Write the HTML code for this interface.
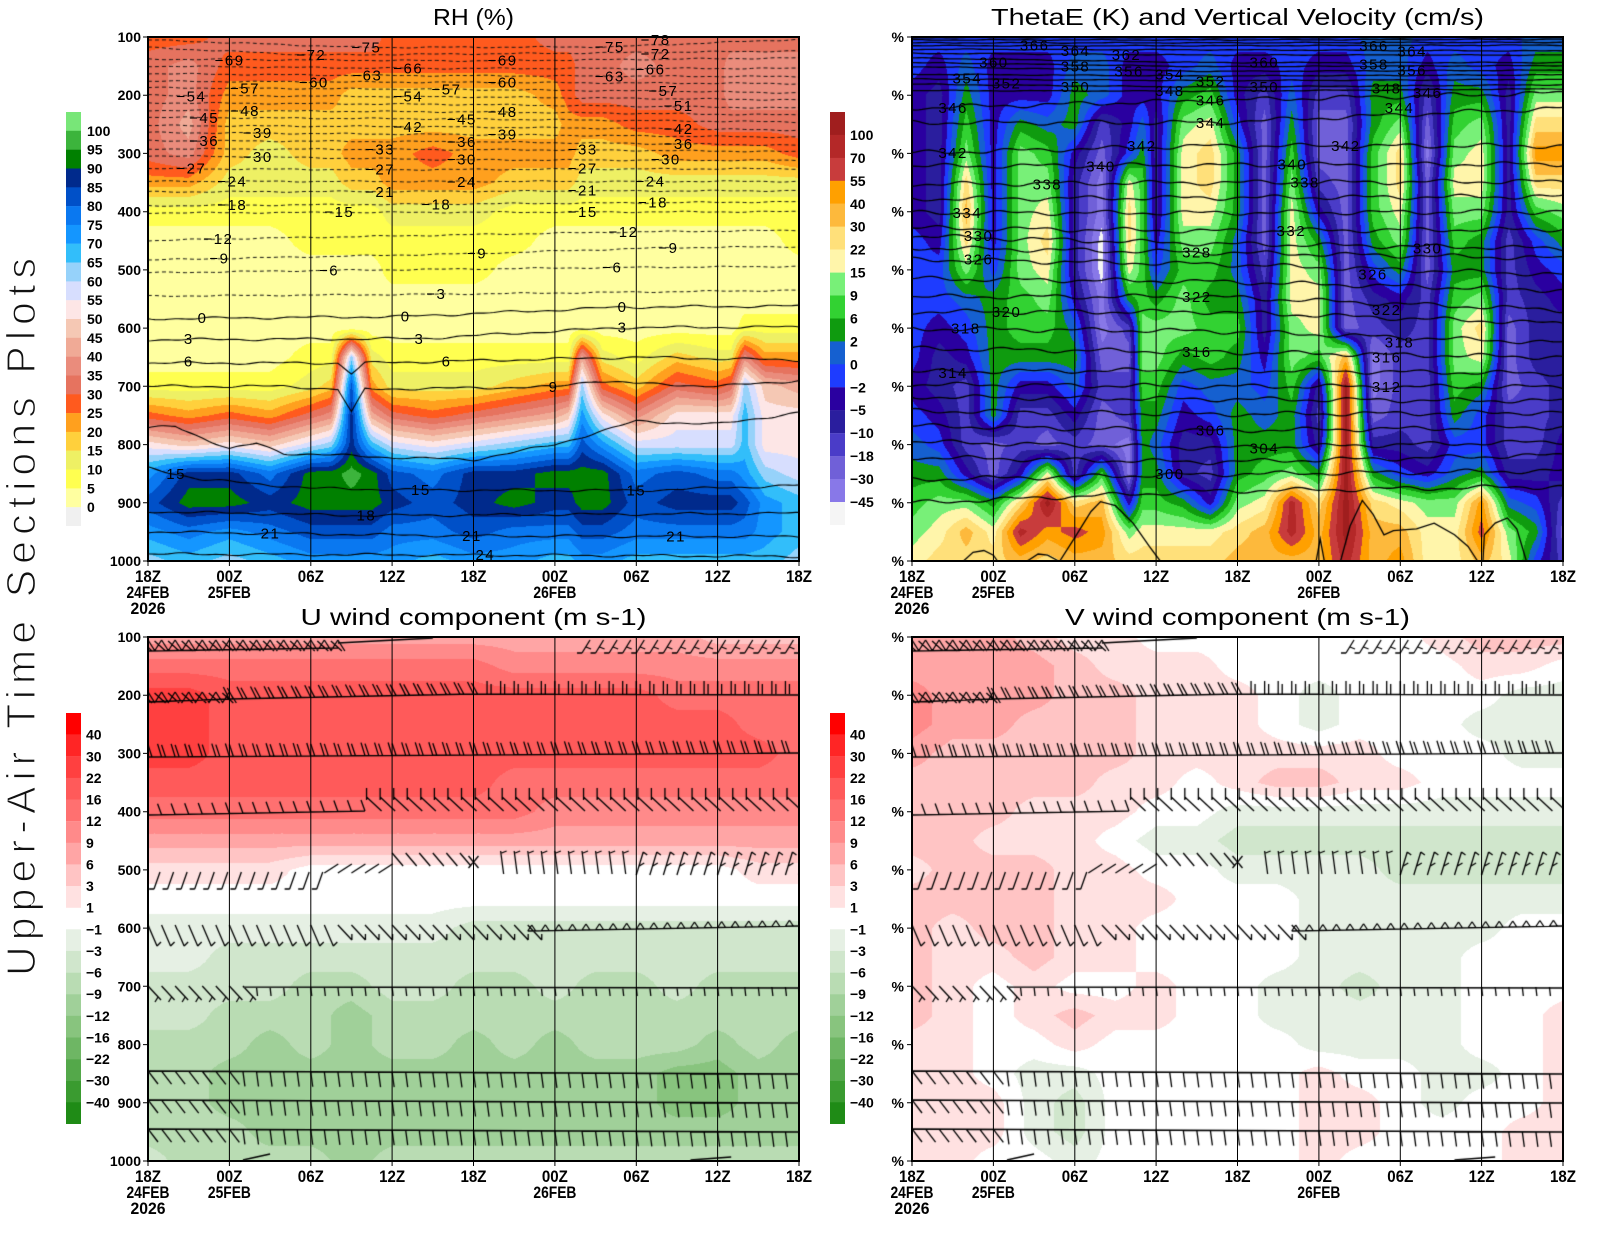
<!DOCTYPE html>
<html><head><meta charset="utf-8">
<style>
html,body{margin:0;padding:0;background:#fff;}
#wrap{position:relative;width:1600px;height:1236px;overflow:hidden;background:#fff;}
canvas,svg{position:absolute;left:0;top:0;}
text{font-family:"Liberation Sans",Arial,sans-serif;fill:#000;}
.ttl{font-size:23px;}
.ax{font-size:14px;font-weight:bold;}
.xl{font-size:17px;font-weight:bold;}
.cl{font-size:15px;letter-spacing:1.5px;}
.cb{font-size:14px;font-weight:bold;}
.big{font-size:41px;fill:#111;stroke:#fff;stroke-width:1.3px;}
</style></head><body><div id="wrap">
<canvas id="cv" width="1600" height="1236"></canvas>
<svg width="1600" height="1236" viewBox="0 0 1600 1236" xmlns="http://www.w3.org/2000/svg">
<text class="big" transform="translate(35,976) rotate(-90)" textLength="718" lengthAdjust="spacing">Upper-Air Time Sections Plots</text>

<text class="ttl" x="473.5" y="25" text-anchor="middle" textLength="81" lengthAdjust="spacingAndGlyphs">RH (%)</text>
<text class="ttl" x="1237.5" y="25" text-anchor="middle" textLength="493" lengthAdjust="spacingAndGlyphs">ThetaE (K) and Vertical Velocity (cm/s)</text>
<text class="ttl" x="473.5" y="625" text-anchor="middle" textLength="346" lengthAdjust="spacingAndGlyphs">U wind component (m s-1)</text>
<text class="ttl" x="1237.5" y="625" text-anchor="middle" textLength="345" lengthAdjust="spacingAndGlyphs">V wind component (m s-1)</text>

<g>
<rect x="66" y="112" width="15" height="19" fill="#78e678"/>
<rect x="66" y="130.8" width="15" height="19" fill="#3cb43c"/>
<rect x="66" y="149.6" width="15" height="19" fill="#008000"/>
<rect x="66" y="168.5" width="15" height="19" fill="#002a8c"/>
<rect x="66" y="187.3" width="15" height="19" fill="#0050c8"/>
<rect x="66" y="206.1" width="15" height="19" fill="#0a78f0"/>
<rect x="66" y="224.9" width="15" height="19" fill="#1496ff"/>
<rect x="66" y="243.7" width="15" height="19" fill="#32befa"/>
<rect x="66" y="262.5" width="15" height="19" fill="#96d2fa"/>
<rect x="66" y="281.4" width="15" height="19" fill="#d7defe"/>
<rect x="66" y="300.2" width="15" height="19" fill="#fde6e6"/>
<rect x="66" y="319" width="15" height="19" fill="#f5c8b4"/>
<rect x="66" y="337.8" width="15" height="19" fill="#f0aa96"/>
<rect x="66" y="356.6" width="15" height="19" fill="#ea8c7c"/>
<rect x="66" y="375.5" width="15" height="19" fill="#e6735f"/>
<rect x="66" y="394.3" width="15" height="19" fill="#ff5a1e"/>
<rect x="66" y="413.1" width="15" height="19" fill="#ffa01e"/>
<rect x="66" y="431.9" width="15" height="19" fill="#ffd03c"/>
<rect x="66" y="450.7" width="15" height="19" fill="#eef064"/>
<rect x="66" y="469.5" width="15" height="19" fill="#ffff50"/>
<rect x="66" y="488.4" width="15" height="19" fill="#ffffa0"/>
<rect x="66" y="507.2" width="15" height="18.8" fill="#f0f0f0"/>
</g>
<g>
<text class="cb" x="87" y="135.8">100</text>
<text class="cb" x="87" y="154.6">95</text>
<text class="cb" x="87" y="173.5">90</text>
<text class="cb" x="87" y="192.3">85</text>
<text class="cb" x="87" y="211.1">80</text>
<text class="cb" x="87" y="229.9">75</text>
<text class="cb" x="87" y="248.7">70</text>
<text class="cb" x="87" y="267.5">65</text>
<text class="cb" x="87" y="286.4">60</text>
<text class="cb" x="87" y="305.2">55</text>
<text class="cb" x="87" y="324">50</text>
<text class="cb" x="87" y="342.8">45</text>
<text class="cb" x="87" y="361.6">40</text>
<text class="cb" x="87" y="380.5">35</text>
<text class="cb" x="87" y="399.3">30</text>
<text class="cb" x="87" y="418.1">25</text>
<text class="cb" x="87" y="436.9">20</text>
<text class="cb" x="87" y="455.7">15</text>
<text class="cb" x="87" y="474.5">10</text>
<text class="cb" x="87" y="493.4">5</text>
<text class="cb" x="87" y="512.2">0</text>
</g>

<g>
<rect x="830" y="112" width="15" height="23.1" fill="#a01e1e"/>
<rect x="830" y="134.9" width="15" height="23.1" fill="#b42828"/>
<rect x="830" y="157.9" width="15" height="23.1" fill="#c83c3c"/>
<rect x="830" y="180.8" width="15" height="23.1" fill="#ffa000"/>
<rect x="830" y="203.8" width="15" height="23.1" fill="#fdb93c"/>
<rect x="830" y="226.7" width="15" height="23.1" fill="#ffe07a"/>
<rect x="830" y="249.6" width="15" height="23.1" fill="#fff5aa"/>
<rect x="830" y="272.6" width="15" height="23.1" fill="#78f078"/>
<rect x="830" y="295.5" width="15" height="23.1" fill="#32d232"/>
<rect x="830" y="318.5" width="15" height="23.1" fill="#0f9b0f"/>
<rect x="830" y="341.4" width="15" height="23.1" fill="#1560d0"/>
<rect x="830" y="364.3" width="15" height="23.1" fill="#1e3cff"/>
<rect x="830" y="387.3" width="15" height="23.1" fill="#2a00a0"/>
<rect x="830" y="410.2" width="15" height="23.1" fill="#2a1e9e"/>
<rect x="830" y="433.2" width="15" height="23.1" fill="#4a3cc8"/>
<rect x="830" y="456.1" width="15" height="23.1" fill="#7060d8"/>
<rect x="830" y="479" width="15" height="23.1" fill="#8878e8"/>
<rect x="830" y="502" width="15" height="23" fill="#f5f5f5"/>
</g>
<g>
<text class="cb" x="850" y="139.9">100</text>
<text class="cb" x="850" y="162.9">70</text>
<text class="cb" x="850" y="185.8">55</text>
<text class="cb" x="850" y="208.8">40</text>
<text class="cb" x="850" y="231.7">30</text>
<text class="cb" x="850" y="254.6">22</text>
<text class="cb" x="850" y="277.6">15</text>
<text class="cb" x="850" y="300.5">9</text>
<text class="cb" x="850" y="323.5">6</text>
<text class="cb" x="850" y="346.4">2</text>
<text class="cb" x="850" y="369.3">0</text>
<text class="cb" x="850" y="392.3">−2</text>
<text class="cb" x="850" y="415.2">−5</text>
<text class="cb" x="850" y="438.2">−10</text>
<text class="cb" x="850" y="461.1">−18</text>
<text class="cb" x="850" y="484">−30</text>
<text class="cb" x="850" y="507">−45</text>
</g>

<g>
<rect x="66" y="713" width="15" height="21.8" fill="#ff0000"/>
<rect x="66" y="734.6" width="15" height="21.8" fill="#ff2525"/>
<rect x="66" y="756.3" width="15" height="21.8" fill="#ff4040"/>
<rect x="66" y="777.9" width="15" height="21.8" fill="#ff5a5a"/>
<rect x="66" y="799.5" width="15" height="21.8" fill="#ff7070"/>
<rect x="66" y="821.2" width="15" height="21.8" fill="#ff8a8a"/>
<rect x="66" y="842.8" width="15" height="21.8" fill="#ffa5a5"/>
<rect x="66" y="864.4" width="15" height="21.8" fill="#ffc4c4"/>
<rect x="66" y="886" width="15" height="21.8" fill="#ffe1e1"/>
<rect x="66" y="929.3" width="15" height="21.8" fill="#e6f0e4"/>
<rect x="66" y="950.9" width="15" height="21.8" fill="#d0e6cc"/>
<rect x="66" y="972.6" width="15" height="21.8" fill="#b9dcb3"/>
<rect x="66" y="994.2" width="15" height="21.8" fill="#a0d099"/>
<rect x="66" y="1015.8" width="15" height="21.8" fill="#88c47e"/>
<rect x="66" y="1037.5" width="15" height="21.8" fill="#6eb664"/>
<rect x="66" y="1059.1" width="15" height="21.8" fill="#54a84a"/>
<rect x="66" y="1080.7" width="15" height="21.8" fill="#3a9b30"/>
<rect x="66" y="1102.3" width="15" height="21.7" fill="#1f8b16"/>
<rect x="830" y="713" width="15" height="21.8" fill="#ff0000"/>
<rect x="830" y="734.6" width="15" height="21.8" fill="#ff2525"/>
<rect x="830" y="756.3" width="15" height="21.8" fill="#ff4040"/>
<rect x="830" y="777.9" width="15" height="21.8" fill="#ff5a5a"/>
<rect x="830" y="799.5" width="15" height="21.8" fill="#ff7070"/>
<rect x="830" y="821.2" width="15" height="21.8" fill="#ff8a8a"/>
<rect x="830" y="842.8" width="15" height="21.8" fill="#ffa5a5"/>
<rect x="830" y="864.4" width="15" height="21.8" fill="#ffc4c4"/>
<rect x="830" y="886" width="15" height="21.8" fill="#ffe1e1"/>
<rect x="830" y="929.3" width="15" height="21.8" fill="#e6f0e4"/>
<rect x="830" y="950.9" width="15" height="21.8" fill="#d0e6cc"/>
<rect x="830" y="972.6" width="15" height="21.8" fill="#b9dcb3"/>
<rect x="830" y="994.2" width="15" height="21.8" fill="#a0d099"/>
<rect x="830" y="1015.8" width="15" height="21.8" fill="#88c47e"/>
<rect x="830" y="1037.5" width="15" height="21.8" fill="#6eb664"/>
<rect x="830" y="1059.1" width="15" height="21.8" fill="#54a84a"/>
<rect x="830" y="1080.7" width="15" height="21.8" fill="#3a9b30"/>
<rect x="830" y="1102.3" width="15" height="21.7" fill="#1f8b16"/>
</g>
<g>
<text class="cb" x="86" y="739.6">40</text><text class="cb" x="86" y="761.3">30</text><text class="cb" x="86" y="782.9">22</text>
<text class="cb" x="86" y="804.5">16</text><text class="cb" x="86" y="826.2">12</text><text class="cb" x="86" y="847.8">9</text>
<text class="cb" x="86" y="869.4">6</text><text class="cb" x="86" y="891">3</text><text class="cb" x="86" y="912.7">1</text>
<text class="cb" x="86" y="934.3">−1</text><text class="cb" x="86" y="955.9">−3</text><text class="cb" x="86" y="977.6">−6</text>
<text class="cb" x="86" y="999.2">−9</text><text class="cb" x="86" y="1020.8">−12</text><text class="cb" x="86" y="1042.5">−16</text>
<text class="cb" x="86" y="1064.1">−22</text><text class="cb" x="86" y="1085.7">−30</text><text class="cb" x="86" y="1107.3">−40</text>
<text class="cb" x="850" y="739.6">40</text><text class="cb" x="850" y="761.3">30</text><text class="cb" x="850" y="782.9">22</text>
<text class="cb" x="850" y="804.5">16</text><text class="cb" x="850" y="826.2">12</text><text class="cb" x="850" y="847.8">9</text>
<text class="cb" x="850" y="869.4">6</text><text class="cb" x="850" y="891">3</text><text class="cb" x="850" y="912.7">1</text>
<text class="cb" x="850" y="934.3">−1</text><text class="cb" x="850" y="955.9">−3</text><text class="cb" x="850" y="977.6">−6</text>
<text class="cb" x="850" y="999.2">−9</text><text class="cb" x="850" y="1020.8">−12</text><text class="cb" x="850" y="1042.5">−16</text>
<text class="cb" x="850" y="1064.1">−22</text><text class="cb" x="850" y="1085.7">−30</text><text class="cb" x="850" y="1107.3">−40</text>
</g>

<g stroke="#000" stroke-width="1" fill="none">
<path d="M229.4 37V561M310.8 37V561M392.1 37V561M473.5 37V561M554.9 37V561M636.3 37V561M717.6 37V561"/>
<path d="M993.4 37V561M1074.8 37V561M1156.1 37V561M1237.5 37V561M1318.9 37V561M1400.3 37V561M1481.6 37V561"/>
<path d="M229.4 637V1161M310.8 637V1161M392.1 637V1161M473.5 637V1161M554.9 637V1161M636.3 637V1161M717.6 637V1161"/>
<path d="M993.4 637V1161M1074.8 637V1161M1156.1 637V1161M1237.5 637V1161M1318.9 637V1161M1400.3 637V1161M1481.6 637V1161"/>
<path d="M143 37H148M143 95.2H148M143 153.4H148M143 211.7H148M143 269.9H148M143 328.1H148M143 386.3H148M143 444.6H148M143 502.8H148M143 561H148"/>
<path d="M907 37H912M907 95.2H912M907 153.4H912M907 211.7H912M907 269.9H912M907 328.1H912M907 386.3H912M907 444.6H912M907 502.8H912M907 561H912"/>
<path d="M143 637H148M143 695.2H148M143 753.4H148M143 811.7H148M143 869.9H148M143 928.1H148M143 986.3H148M143 1044.6H148M143 1102.8H148M143 1161H148"/>
<path d="M907 637H912M907 695.2H912M907 753.4H912M907 811.7H912M907 869.9H912M907 928.1H912M907 986.3H912M907 1044.6H912M907 1102.8H912M907 1161H912"/>
<path d="M148 561V566M229.4 561V566M310.8 561V566M392.1 561V566M473.5 561V566M554.9 561V566M636.3 561V566M717.6 561V566M799 561V566"/>
<path d="M912 561V566M993.4 561V566M1074.8 561V566M1156.1 561V566M1237.5 561V566M1318.9 561V566M1400.3 561V566M1481.6 561V566M1563 561V566"/>
<path d="M148 1161V1166M229.4 1161V1166M310.8 1161V1166M392.1 1161V1166M473.5 1161V1166M554.9 1161V1166M636.3 1161V1166M717.6 1161V1166M799 1161V1166"/>
<path d="M912 1161V1166M993.4 1161V1166M1074.8 1161V1166M1156.1 1161V1166M1237.5 1161V1166M1318.9 1161V1166M1400.3 1161V1166M1481.6 1161V1166M1563 1161V1166"/>
</g>
<g stroke="#000" stroke-width="2" fill="none">
<rect x="148" y="37" width="651" height="524"/>
<rect x="912" y="37" width="651" height="524"/>
<rect x="148" y="637" width="651" height="524"/>
<rect x="912" y="637" width="651" height="524"/>
</g>

<g text-anchor="end">
<text class="ax" x="141" y="42">100</text><text class="ax" x="141" y="100.2">200</text><text class="ax" x="141" y="158.4">300</text>
<text class="ax" x="141" y="216.7">400</text><text class="ax" x="141" y="274.9">500</text><text class="ax" x="141" y="333.1">600</text>
<text class="ax" x="141" y="391.3">700</text><text class="ax" x="141" y="449.6">800</text><text class="ax" x="141" y="507.8">900</text>
<text class="ax" x="141" y="566">1000</text>
<text class="ax" x="141" y="642">100</text><text class="ax" x="141" y="700.2">200</text><text class="ax" x="141" y="758.4">300</text>
<text class="ax" x="141" y="816.7">400</text><text class="ax" x="141" y="874.9">500</text><text class="ax" x="141" y="933.1">600</text>
<text class="ax" x="141" y="991.3">700</text><text class="ax" x="141" y="1049.6">800</text><text class="ax" x="141" y="1107.8">900</text>
<text class="ax" x="141" y="1166">1000</text>
<text class="ax" x="904" y="42">%</text><text class="ax" x="904" y="100.2">%</text><text class="ax" x="904" y="158.4">%</text>
<text class="ax" x="904" y="216.7">%</text><text class="ax" x="904" y="274.9">%</text><text class="ax" x="904" y="333.1">%</text>
<text class="ax" x="904" y="391.3">%</text><text class="ax" x="904" y="449.6">%</text><text class="ax" x="904" y="507.8">%</text>
<text class="ax" x="904" y="566">%</text>
<text class="ax" x="904" y="642">%</text><text class="ax" x="904" y="700.2">%</text><text class="ax" x="904" y="758.4">%</text>
<text class="ax" x="904" y="816.7">%</text><text class="ax" x="904" y="874.9">%</text><text class="ax" x="904" y="933.1">%</text>
<text class="ax" x="904" y="991.3">%</text><text class="ax" x="904" y="1049.6">%</text><text class="ax" x="904" y="1107.8">%</text>
<text class="ax" x="904" y="1166">%</text>
</g>

<g text-anchor="middle">
<text class="xl" x="148" y="582" textLength="26" lengthAdjust="spacingAndGlyphs">18Z</text>
<text class="xl" x="229.4" y="582" textLength="26" lengthAdjust="spacingAndGlyphs">00Z</text>
<text class="xl" x="310.8" y="582" textLength="26" lengthAdjust="spacingAndGlyphs">06Z</text>
<text class="xl" x="392.1" y="582" textLength="26" lengthAdjust="spacingAndGlyphs">12Z</text>
<text class="xl" x="473.5" y="582" textLength="26" lengthAdjust="spacingAndGlyphs">18Z</text>
<text class="xl" x="554.9" y="582" textLength="26" lengthAdjust="spacingAndGlyphs">00Z</text>
<text class="xl" x="636.3" y="582" textLength="26" lengthAdjust="spacingAndGlyphs">06Z</text>
<text class="xl" x="717.6" y="582" textLength="26" lengthAdjust="spacingAndGlyphs">12Z</text>
<text class="xl" x="799" y="582" textLength="26" lengthAdjust="spacingAndGlyphs">18Z</text>
<text class="xl" x="148" y="598" textLength="43" lengthAdjust="spacingAndGlyphs">24FEB</text>
<text class="xl" x="229.4" y="598" textLength="43" lengthAdjust="spacingAndGlyphs">25FEB</text>
<text class="xl" x="554.9" y="598" textLength="43" lengthAdjust="spacingAndGlyphs">26FEB</text>
<text class="xl" x="148" y="614" textLength="35" lengthAdjust="spacingAndGlyphs">2026</text>

<text class="xl" x="912" y="582" textLength="26" lengthAdjust="spacingAndGlyphs">18Z</text>
<text class="xl" x="993.4" y="582" textLength="26" lengthAdjust="spacingAndGlyphs">00Z</text>
<text class="xl" x="1074.8" y="582" textLength="26" lengthAdjust="spacingAndGlyphs">06Z</text>
<text class="xl" x="1156.1" y="582" textLength="26" lengthAdjust="spacingAndGlyphs">12Z</text>
<text class="xl" x="1237.5" y="582" textLength="26" lengthAdjust="spacingAndGlyphs">18Z</text>
<text class="xl" x="1318.9" y="582" textLength="26" lengthAdjust="spacingAndGlyphs">00Z</text>
<text class="xl" x="1400.3" y="582" textLength="26" lengthAdjust="spacingAndGlyphs">06Z</text>
<text class="xl" x="1481.6" y="582" textLength="26" lengthAdjust="spacingAndGlyphs">12Z</text>
<text class="xl" x="1563" y="582" textLength="26" lengthAdjust="spacingAndGlyphs">18Z</text>
<text class="xl" x="912" y="598" textLength="43" lengthAdjust="spacingAndGlyphs">24FEB</text>
<text class="xl" x="993.4" y="598" textLength="43" lengthAdjust="spacingAndGlyphs">25FEB</text>
<text class="xl" x="1318.9" y="598" textLength="43" lengthAdjust="spacingAndGlyphs">26FEB</text>
<text class="xl" x="912" y="614" textLength="35" lengthAdjust="spacingAndGlyphs">2026</text>

<text class="xl" x="148" y="1182" textLength="26" lengthAdjust="spacingAndGlyphs">18Z</text>
<text class="xl" x="229.4" y="1182" textLength="26" lengthAdjust="spacingAndGlyphs">00Z</text>
<text class="xl" x="310.8" y="1182" textLength="26" lengthAdjust="spacingAndGlyphs">06Z</text>
<text class="xl" x="392.1" y="1182" textLength="26" lengthAdjust="spacingAndGlyphs">12Z</text>
<text class="xl" x="473.5" y="1182" textLength="26" lengthAdjust="spacingAndGlyphs">18Z</text>
<text class="xl" x="554.9" y="1182" textLength="26" lengthAdjust="spacingAndGlyphs">00Z</text>
<text class="xl" x="636.3" y="1182" textLength="26" lengthAdjust="spacingAndGlyphs">06Z</text>
<text class="xl" x="717.6" y="1182" textLength="26" lengthAdjust="spacingAndGlyphs">12Z</text>
<text class="xl" x="799" y="1182" textLength="26" lengthAdjust="spacingAndGlyphs">18Z</text>
<text class="xl" x="148" y="1198" textLength="43" lengthAdjust="spacingAndGlyphs">24FEB</text>
<text class="xl" x="229.4" y="1198" textLength="43" lengthAdjust="spacingAndGlyphs">25FEB</text>
<text class="xl" x="554.9" y="1198" textLength="43" lengthAdjust="spacingAndGlyphs">26FEB</text>
<text class="xl" x="148" y="1214" textLength="35" lengthAdjust="spacingAndGlyphs">2026</text>

<text class="xl" x="912" y="1182" textLength="26" lengthAdjust="spacingAndGlyphs">18Z</text>
<text class="xl" x="993.4" y="1182" textLength="26" lengthAdjust="spacingAndGlyphs">00Z</text>
<text class="xl" x="1074.8" y="1182" textLength="26" lengthAdjust="spacingAndGlyphs">06Z</text>
<text class="xl" x="1156.1" y="1182" textLength="26" lengthAdjust="spacingAndGlyphs">12Z</text>
<text class="xl" x="1237.5" y="1182" textLength="26" lengthAdjust="spacingAndGlyphs">18Z</text>
<text class="xl" x="1318.9" y="1182" textLength="26" lengthAdjust="spacingAndGlyphs">00Z</text>
<text class="xl" x="1400.3" y="1182" textLength="26" lengthAdjust="spacingAndGlyphs">06Z</text>
<text class="xl" x="1481.6" y="1182" textLength="26" lengthAdjust="spacingAndGlyphs">12Z</text>
<text class="xl" x="1563" y="1182" textLength="26" lengthAdjust="spacingAndGlyphs">18Z</text>
<text class="xl" x="912" y="1198" textLength="43" lengthAdjust="spacingAndGlyphs">24FEB</text>
<text class="xl" x="993.4" y="1198" textLength="43" lengthAdjust="spacingAndGlyphs">25FEB</text>
<text class="xl" x="1318.9" y="1198" textLength="43" lengthAdjust="spacingAndGlyphs">26FEB</text>
<text class="xl" x="912" y="1214" textLength="35" lengthAdjust="spacingAndGlyphs">2026</text>
</g>

<g text-anchor="middle">
<text class="cl" x="229.6" y="65.7">−69</text><text class="cl" x="311.3" y="59.8">−72</text><text class="cl" x="366.4" y="52.7">−75</text>
<text class="cl" x="408.2" y="73.6">−66</text><text class="cl" x="502.6" y="65.7">−69</text><text class="cl" x="609.7" y="51.9">−75</text>
<text class="cl" x="655.6" y="45.2">−78</text><text class="cl" x="655.6" y="59">−72</text><text class="cl" x="650.5" y="74.4">−66</text>
<text class="cl" x="245" y="93.4">−57</text><text class="cl" x="313.8" y="87.5">−60</text><text class="cl" x="367.4" y="80.4">−63</text>
<text class="cl" x="191.4" y="101.3">−54</text><text class="cl" x="408.2" y="101.3">−54</text><text class="cl" x="446.5" y="94.6">−57</text>
<text class="cl" x="502.6" y="87.5">−60</text><text class="cl" x="609.7" y="81.5">−63</text><text class="cl" x="663.3" y="96.2">−57</text>
<text class="cl" x="678.6" y="111.2">−51</text><text class="cl" x="204.1" y="123.1">−45</text><text class="cl" x="245" y="116">−48</text>
<text class="cl" x="408.2" y="131.8">−42</text><text class="cl" x="461.8" y="124.3">−45</text><text class="cl" x="502.6" y="117.1">−48</text>
<text class="cl" x="678.6" y="134.2">−42</text><text class="cl" x="204.1" y="146">−36</text><text class="cl" x="257.7" y="138.1">−39</text>
<text class="cl" x="461.8" y="146.8">−36</text><text class="cl" x="502.6" y="139.7">−39</text><text class="cl" x="678.6" y="149.2">−36</text>
<text class="cl" x="380.1" y="154.7">−33</text><text class="cl" x="582.7" y="154.7">−33</text><text class="cl" x="257.7" y="161.8">−30</text>
<text class="cl" x="461.8" y="164.6">−30</text><text class="cl" x="665.8" y="164.6">−30</text><text class="cl" x="191.4" y="173.7">−27</text>
<text class="cl" x="380.1" y="174.5">−27</text><text class="cl" x="582.7" y="173.7">−27</text><text class="cl" x="232.2" y="186.4">−24</text>
<text class="cl" x="461.8" y="187.1">−24</text><text class="cl" x="650.5" y="186.4">−24</text><text class="cl" x="380.1" y="197">−21</text>
<text class="cl" x="582.7" y="195.5">−21</text><text class="cl" x="232.2" y="210.1">−18</text><text class="cl" x="436.3" y="209.3">−18</text>
<text class="cl" x="653" y="207.3">−18</text><text class="cl" x="339.3" y="216.8">−15</text><text class="cl" x="582.7" y="216.8">−15</text>
<text class="cl" x="218.4" y="244.1">−12</text><text class="cl" x="623.5" y="237">−12</text><text class="cl" x="219.4" y="263.5">−9</text>
<text class="cl" x="477.1" y="258.7">−9</text><text class="cl" x="668.4" y="252.8">−9</text><text class="cl" x="329.1" y="275.3">−6</text>
<text class="cl" x="612.3" y="272.6">−6</text><text class="cl" x="436.3" y="299.1">−3</text><text class="cl" x="202.6" y="322.8">0</text>
<text class="cl" x="405.7" y="321.6">0</text><text class="cl" x="622.5" y="312.1">0</text><text class="cl" x="188.8" y="343.8">3</text>
<text class="cl" x="419.4" y="343.8">3</text><text class="cl" x="622.5" y="332.7">3</text><text class="cl" x="188.8" y="366.3">6</text>
<text class="cl" x="446.5" y="366.3">6</text><text class="cl" x="553.6" y="392">9</text><text class="cl" x="176.1" y="479">15</text>
<text class="cl" x="420.9" y="494.8">15</text><text class="cl" x="636.3" y="495.6">15</text><text class="cl" x="366.4" y="520.6">18</text>
<text class="cl" x="270.5" y="538.3">21</text><text class="cl" x="472" y="541.1">21</text><text class="cl" x="676.1" y="541.5">21</text>
<text class="cl" x="485.3" y="560.1">24</text>
</g>

<g text-anchor="middle">
<text class="cl" x="1034.7" y="50.7">366</text><text class="cl" x="1075.5" y="55.8">364</text><text class="cl" x="1126.5" y="59.8">362</text>
<text class="cl" x="993.9" y="67.7">360</text><text class="cl" x="1075.5" y="71.7">358</text><text class="cl" x="1129.1" y="76.4">356</text>
<text class="cl" x="1169.9" y="79.6">354</text><text class="cl" x="967.3" y="83.5">354</text><text class="cl" x="1006.6" y="88.3">352</text>
<text class="cl" x="1075.5" y="92.2">350</text><text class="cl" x="1169.9" y="96.2">348</text><text class="cl" x="1210.7" y="86.3">352</text>
<text class="cl" x="1210.7" y="105.3">346</text><text class="cl" x="1264.3" y="67.7">360</text><text class="cl" x="1264.3" y="92.2">350</text>
<text class="cl" x="1374" y="51.1">366</text><text class="cl" x="1412.2" y="56.6">364</text><text class="cl" x="1374" y="69.7">358</text>
<text class="cl" x="1412.2" y="75.6">356</text><text class="cl" x="1386.7" y="93.4">348</text><text class="cl" x="1427.6" y="98.2">346</text>
<text class="cl" x="1399.5" y="113.2">344</text><text class="cl" x="953.1" y="113.2">346</text><text class="cl" x="1210.7" y="127.8">344</text>
<text class="cl" x="953.1" y="157.9">342</text><text class="cl" x="1141.8" y="150.8">342</text><text class="cl" x="1345.9" y="150.8">342</text>
<text class="cl" x="1101" y="171.3">340</text><text class="cl" x="1292.3" y="169.7">340</text><text class="cl" x="1047.4" y="189.5">338</text>
<text class="cl" x="1305.1" y="187.5">338</text><text class="cl" x="967.3" y="218">334</text><text class="cl" x="1291.3" y="235.8">332</text>
<text class="cl" x="978.6" y="240.9">330</text><text class="cl" x="1427.6" y="253.6">330</text><text class="cl" x="1196.9" y="257.5">328</text>
<text class="cl" x="978.6" y="264.3">326</text><text class="cl" x="1373" y="279.3">326</text><text class="cl" x="1196.9" y="301.8">322</text>
<text class="cl" x="1386.7" y="314.9">322</text><text class="cl" x="1006.6" y="316.9">320</text><text class="cl" x="965.8" y="333.5">318</text>
<text class="cl" x="1399.5" y="347.7">318</text><text class="cl" x="1196.9" y="357.2">316</text><text class="cl" x="1386.7" y="362.4">316</text>
<text class="cl" x="953.1" y="378.2">314</text><text class="cl" x="1386.7" y="392">312</text><text class="cl" x="1210.7" y="435.5">306</text>
<text class="cl" x="1264.3" y="453.3">304</text><text class="cl" x="1169.9" y="479">300</text>
</g>
</svg>
</div>
<script>
(function(){
var cv=document.getElementById('cv');var ctx=cv.getContext('2d');
var W=651,H=524;
function hx(h){return [parseInt(h.substr(1,2),16),parseInt(h.substr(3,2),16),parseInt(h.substr(5,2),16)];}
function transpose(rows){var nc=rows[0].length,out=[];for(var c=0;c<nc;c++){var s='';for(var r=0;r<rows.length;r++)s+=rows[r][c];out.push(s);}return out;}
function uni(n,step){var a=[];for(var i=0;i<n;i++)a.push(i*step);return a;}
function fill(X0,Y0,cols,tpos,pal){
  var g=cols.map(function(s){return s.split('').map(function(c){return parseInt(c,36);});});
  var P=pal.map(hx),nc=g.length,nr=g[0].length;
  var img=ctx.createImageData(W,H),d=img.data;
  var cidx=[],cfr=[];
  for(var i=0;i<W;i++){
    var t=(i+0.5)*48/W;var c0=0;
    while(c0<nc-2&&t>=tpos[c0+1])c0++;
    cidx.push(c0);cfr.push((t-tpos[c0])/(tpos[c0+1]-tpos[c0]));
  }
  for(var j=0;j<H;j++){
    var p=100+(j+0.5)*900/H;var r=(p-100)/50;var r0=Math.min(Math.floor(r),nr-2);var fr=r-r0;
    for(var i=0;i<W;i++){
      var c0=cidx[i],fc=cfr[i];
      var v=(1-fc)*((1-fr)*g[c0][r0]+fr*g[c0][r0+1])+fc*((1-fr)*g[c0+1][r0]+fr*g[c0+1][r0+1]);
      var k=Math.round(v);if(k<0)k=0;if(k>=P.length)k=P.length-1;
      var o=(j*W+i)*4,q=P[k];d[o]=q[0];d[o+1]=q[1];d[o+2]=q[2];d[o+3]=255;
    }
  }
  ctx.putImageData(img,X0,Y0);
}
var palRH=["#f0f0f0","#ffffa0","#ffff50","#eef064","#ffd03c","#ffa01e","#ff5a1e","#e6735f","#ea8c7c","#f0aa96","#f5c8b4","#fde6e6","#d7defe","#96d2fa","#32befa","#1496ff","#0a78f0","#0050c8","#002a8c","#008000","#3cb43c","#78e678"];
var palTE=["#f5f5f5","#8878e8","#7060d8","#4a3cc8","#2a1e9e","#2a00a0","#1e3cff","#1560d0","#0f9b0f","#32d232","#78f078","#fff5aa","#ffe07a","#fdb93c","#ffa000","#c83c3c","#b42828","#a01e1e"];
var palW=["#1f8b16","#3a9b30","#54a84a","#6eb664","#88c47e","#a0d099","#b9dcb3","#d0e6cc","#e6f0e4","#ffffff","#ffe1e1","#ffc4c4","#ffa5a5","#ff8a8a","#ff7070","#ff5a5a","#ff4040","#ff2525","#ff0000"];
var rhT=[0,3,6,9,12,13.5,15,16.5,18,21,24,27,30,31,32,33.5,36,39,42,43,44,45.5,48];
var rh=["67777521111126bfhfd","68898521111125aijge","76544321111126bijfd","76543321111125agige","76544322111237cjjhf",
"76544322111248djjhf","76445422111dhiikjhf","76445422111359ejjhf",
"66445532211237chigf","66446532211236bghge","66445532211237ciihf","66445422111248dijgf","76545421111259ejige",
"7665542111125aejige","777543211119dfhjjhf","7775432111136bfjjhf",
"78764321111248cghge","7776532111147bchige","7777532111136bcgige",
"7887532111137bcgige","788753211128deefhge","788753211125abbdffe","7887632211259bbceed"];
var teT=[0,2,4,6,8,10,12,14,16,17,18,20,22,24,26,28,30,32,34,36,38,40,42,44,46,48];
var te=["66555556666656789ab","6544444566544568abc","6789acdca7653335adc","65555555688888228bc","6558aaaaa9985335cgd","65579abcba98532bhec","6788544445787533cfd","6773211001123229ded","65556bccb83233115ac","6557899999aa98889bc","6554444568aa98789bc","668abbba9aa865448bc","679bccba989976435bc","6556888778987888acd","6532222234456789bdd","66789abbbbaa988aggd","65322358abb94348cdd","65322222222dhhhhhhg","7788999864311248cdd","778accba85433346bde","6532122223333335abb","6789aba989aa9867abb","668abba88acb8668efd","65444443332223347ab","78acec9654443334686","78aceca865444455323"];
var uRows=["ccccccccccccccbbb","eeeeeeeeedddddddd","ggfffffffffffeeee","ggfffffffffffffee","ggffffffffffffffe","fffffffffeeeeeeee","eeeeeeeeeeddddddd","ccccccccccccccccc","aaaa99999999999aa","99999999999999999","88888888777777777","88777777777777777","77776677667667666","77666566666666666","66656566565666565","66555555555554455","66555555555554455","66655555555555555","76666566666666666"];
var vRows=["cccbaa9999999abbb","ccccbaaa999999aa9","dcccbbaaa98999988","dccbbbaaa98999888","cbbbbbaaaaaa99988","bbbbbaa9abbaa9999","bbbaaa99888888888","bbaaa988777777777","abbbaa99888877777","bbbbaaa9998888888","babbaa99998888899","baabaa99998888999","ba9a99a9988788999","ba9abaa998888899a","aa99a99999888899a","aa98899999a99889a","aaa8799999aa9899a","aaa8799999aa999aa","aa99899999a9999aa"];
fill(148,37,rh,rhT,palRH);
fill(912,37,te,teT,palTE);
fill(148,637,transpose(uRows),uni(17,3),palW);
fill(912,637,transpose(vRows),uni(17,3),palW);

function ia(an,t){if(t<=an[0][0])return an[0][1];for(var i=1;i<an.length;i++){if(t<=an[i][0]){var a=an[i-1],b=an[i];return a[1]+(b[1]-a[1])*(t-a[0])/(b[0]-a[0]);}}return an[an.length-1][1];}
function contour(X0,Y0,an,amp,ph,dash,lw,col){
  ctx.save();ctx.beginPath();ctx.rect(X0,Y0,W,H);ctx.clip();
  ctx.beginPath();ctx.lineWidth=lw;ctx.strokeStyle=col||'#000';ctx.setLineDash(dash||[]);
  for(var n=0;n<=192;n++){var t=n*0.25;
    var p=ia(an,t)+amp*(0.6*Math.sin(0.9*t+ph)+0.4*Math.sin(2.3*t+2*ph));
    var x=X0+t*13.5625,y=Y0+(p-100)*H/900;
    if(n===0)ctx.moveTo(x,y);else ctx.lineTo(x,y);}
  ctx.stroke();ctx.restore();
}
function polyTP(X0,Y0,pts,lw){
  ctx.save();ctx.beginPath();ctx.rect(X0,Y0,W,H);ctx.clip();
  ctx.beginPath();ctx.lineWidth=lw;ctx.strokeStyle='#000';ctx.setLineDash([]);
  for(var i=0;i<pts.length;i++){var x=X0+pts[i][0]*13.5625,y=Y0+(pts[i][1]-100)*H/900;if(i===0)ctx.moveTo(x,y);else ctx.lineTo(x,y);}
  ctx.stroke();ctx.restore();
}
var T=[
[-75,[[0,105],[16,118],[34,117],[48,104]]],
[-72,[[0,118],[12,131],[30,128],[48,124]]],
[-69,[[0,138],[24,141],[48,136]]],
[-66,[[0,150],[20,154],[48,154]]],
[-63,[[0,163],[16,166],[48,168]]],
[-60,[[0,176],[24,178],[48,180]]],
[-57,[[0,187],[22,190],[38,193],[48,196]]],
[-54,[[0,200],[24,203],[48,208]]],
[-51,[[0,213],[24,216],[48,222]]],
[-48,[[0,226],[26,229],[48,234]]],
[-45,[[0,238],[24,241],[48,246]]],
[-42,[[0,252],[20,254],[40,258],[48,260]]],
[-39,[[0,264],[26,268],[48,272]]],
[-36,[[0,278],[24,280],[40,284],[48,286]]],
[-33,[[0,292],[32,294],[48,297]]],
[-30,[[0,304],[8,306],[23,311],[48,312]]],
[-27,[[0,326],[17,328],[48,326]]],
[-24,[[0,348],[48,348]]],
[-21,[[0,366],[48,364]]],
[-18,[[0,390],[21,387],[48,383]]],
[-15,[[0,402],[48,400]]],
[-12,[[0,450],[5,447],[35,435],[48,432]]],
[-9,[[0,483],[24,472],[38,462],[48,460]]],
[-6,[[0,505],[13,501],[34,496],[48,494]]],
[-3,[[0,545],[21,542],[48,535]]],
[0,[[0,584],[19,580],[35,564],[48,562]]],
[3,[[0,620],[20,618],[35,599],[48,598]]],
[6,[[0,660],[14,660],[15,678],[16,660],[22,657],[36,650],[48,655]]],
[9,[[0,700],[10,700],[14,705],[15,745],[16,705],[30,701],[33,690],[36,695],[42,700],[48,690]]],
[12,[[0,772],[2,768],[6,808],[8,798],[10,815],[18,822],[24,826],[30,800],[36,760],[42,765],[48,745]]],
[15,[[0,840],[4,860],[12,875],[20,878],[36,879],[48,870]]],
[18,[[0,915],[16,922],[48,918]]],
[21,[[0,950],[24,957],[48,958]]],
[24,[[0,988],[25,990],[48,992]]]
];
for(var i=0;i<T.length;i++){var L=T[i][0];
  contour(148,37,T[i][1],L<0?1.2:2.5,L*0.37,L<0?[4,3]:[],L<0?1:1.1,L<0?'#111':'#000');}
var TE=[[372,101,101,101],[370,105,105,104],[368,110,110,109],[366,115,115,114],[364,121,122,124],[362,128,131,131],[360,136,144,144],[358,144,151,149],[356,151,159,157],[354,164,167,165],[352,172,175,173],[350,181,186,182],[348,192,193,189],[346,222,209,196],[344,247,247,222],[342,299,287,287],[340,322,320,318],[338,353,350,348],[336,378,376,374],[334,402,402,400],[332,428,433,430],[330,442,455,463],[328,462,470,480],[326,482,490,508],[324,515,520,535],[322,546,546,569],[320,572,572,592],[318,601,605,625],[316,635,641,650],[314,675,672,678],[312,697,700,701],[310,718,722,725],[308,742,748,745],[306,768,776,770],[304,795,806,795],[302,822,830,818],[300,860,851,845],[298,900,880,872]];
for(var i=0;i<TE.length;i++){var e=TE[i];
  contour(912,37,[[0,e[1]],[22,e[2]],[48,e[3]]],e[0]>=348?0.8:4.5,e[0]*0.71,[],1.3,'#000');}
polyTP(912,37,[[3.8,1000],[4.5,985],[5.3,982],[6,990],[6.3,1000]],1.3);
polyTP(912,37,[[8.5,1000],[9.3,988],[10,990],[10.8,1000]],1.3);
polyTP(912,37,[[10.9,1000],[12,960],[13.2,915],[13.9,898],[15,905],[16.3,935],[17.5,975],[18.3,1000]],1.3);
polyTP(912,37,[[29.8,1000],[30.1,962],[30.4,1000]],1.3);
polyTP(912,37,[[31.6,1000],[32.3,940],[33.2,896],[34,920],[34.8,955],[35.5,948],[37.2,945],[38.5,935],[40,955],[41,975],[41.7,1000]],1.3);
polyTP(912,37,[[42.1,1000],[42.2,955],[43,935],[43.9,926],[44.6,945],[45.3,1000]],1.3);

function barbs(X0){
  function X(t){return X0+t*13.5625;}
  ctx.save();ctx.beginPath();ctx.rect(X0,637,W,H);ctx.clip();
  ctx.beginPath();ctx.strokeStyle='#000';ctx.lineWidth=1.3;ctx.setLineDash([]);
  function s(a,b,c,d){ctx.moveTo(a,b);ctx.lineTo(c,d);}
  var t,x,y;
  for(t=0;t<=14;t++){x=X(t);s(x-7,651,x,640);s(x,640,x+7,651);s(x-7,641,x+4,651);}
  s(X(0),651,X(14),648);
  s(X(14),643,X(21),638);
  for(t=32;t<=48;t++){x=X(t);s(x,653,x+8,640);s(x-5,653,x,653);s(x+4,647,x+9,649);}
  for(t=0;t<=6;t++){x=X(t);s(x-7,703,x,692);s(x,692,x+7,703);s(x-7,693,x+4,703);}
  s(X(0),702,X(6),699);
  s(X(6),699,X(24),694);s(X(24),694,X(48),695);
  for(t=6;t<=24;t++){x=X(t);y=699-(t-6)*5/18;s(x,y,x-6,y-12);s(x+4,y,x-2,y-11);}
  for(t=25;t<=47;t++){x=X(t);s(x,694,x,681);s(x+4,694,x+4,684);}
  s(X(0),757,X(48),753);
  for(t=0;t<=47;t++){x=X(t);y=757-t*4/48;s(x,y,x-4,y-13);s(x+4,y,x,y-12);}
  s(X(0),815,X(16),811);
  for(t=0;t<=16;t++){x=X(t);y=815-t*4/16;s(x,y,x-4,y-11);}
  for(t=17;t<=48;t++){x=X(t);s(x-12,788,x-12,800);s(x-12,797,x+3,811);}
  for(t=0;t<=12;t++){x=X(t)+6;s(x,889,x+6,872);s(x-5,889,x,889);}
  for(t=13;t<=17;t++){x=X(t);s(x,873,x+14,864);}
  for(t=18;t<=23;t++){x=X(t);s(x,853,x+11,866);}
  x=X(24);s(x-5,856,x+5,868);s(x+5,856,x-5,868);
  for(t=26;t<=48;t++){x=X(t);if(t<36){s(x,851,x+3,874);s(x+1,853,x+6,851);}else{s(x,875,x+7,852);s(x+7,852,x+11,855);s(x+3,866,x+8,863);}}
  for(t=0;t<=28;t++){x=X(t);if(t<14){s(x,925,x+9,946);s(x+9,946,x+13,942);}else{s(x,925,x+14,940);s(x+14,940,x+14,934);}}
  s(X(28),931,X(48),926);
  for(t=28;t<=47;t++){x=X(t);y=931-(t-28)*5/20;s(x,y,x+4,y-6);s(x+4,y-6,x+8,y);}
  for(t=0;t<=7;t++){x=X(t);s(x,986,x+13,1000);s(x+10,997,x+7,1002);}
  s(X(7),987,X(48),988);
  for(t=8;t<=48;t++){x=X(t);s(x,987,x+1,996);}
  var rows=[1074,1103,1132];
  for(var k=0;k<3;k++){y=rows[k];s(X(0),y-3,X(48),y);
    for(t=0;t<=48;t++){x=X(t);var yy=y-3+3*t/48;if(t<7)s(x,yy,x+10,yy+13);else s(x,yy,x+2,yy+15);}}
  s(X(7),1160,X(9),1154);s(X(40),1160,X(43),1157);
  ctx.stroke();ctx.restore();
}
barbs(148);barbs(912);
})();
</script>
</body></html>
